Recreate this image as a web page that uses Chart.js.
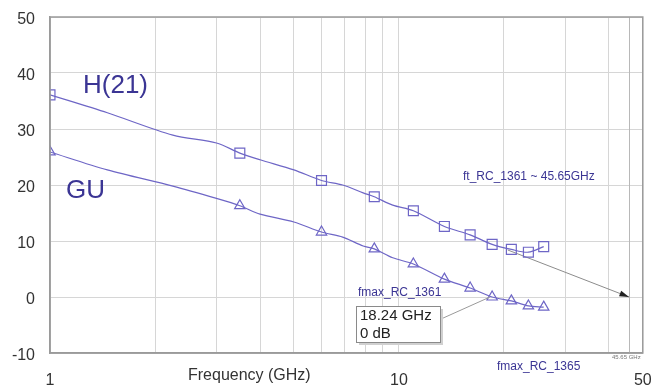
<!DOCTYPE html>
<html>
<head>
<meta charset="utf-8">
<script src="https://cdn.jsdelivr.net/npm/chart.js@4.4.1/dist/chart.umd.min.js"></script>
<style>
  html, body { margin: 0; padding: 0; background: #fff; }
  #wrap { width: 651px; height: 386px; }
</style>
</head>
<body>
<div id="wrap"><canvas id="c"></canvas></div>
<script>
// ---- data (frequency in GHz, gain in dB) ----
const lineFreqs  = [1, 1.46, 2.25, 3.0, 3.5, 4.0, 5.0, 6.0, 6.9, 7.9, 8.5, 9.6, 11, 13.5, 16, 18.5, 21, 23.5, 26];
const h21Line    = [36.1, 32.9, 28.9, 27.5, 25.7, 24.5, 22.7, 20.8, 20.0, 18.6, 17.9, 16.4, 15.4, 12.6, 11.1, 9.4, 8.5, 8.0, 9.0];
const guLine     = [25.9, 22.7, 19.8, 17.6, 16.3, 14.8, 13.4, 11.6, 10.7, 9.1, 8.6, 7.0, 5.9, 3.2, 1.6, 0.0, -0.7, -1.6, -1.8];

const markerFreqs = [1, 3.5, 6, 8.5, 11, 13.5, 16, 18.5, 21, 23.5, 26];
const h21Markers  = [36.1, 25.7, 20.8, 17.9, 15.4, 12.6, 11.1, 9.4, 8.5, 8.0, 9.0];
const guMarkers   = [25.9, 16.3, 11.6, 8.6, 5.9, 3.2, 1.6, 0.0, -0.7, -1.6, -1.8];

// extrapolated ft line and fmax marker
const ftFreqs = [20.5, 45.65];
const ftGain  = [8.4, 0];
const fmaxPoint = { x: 18.24, y: 0 };

const xTicks = [1, 2, 3, 4, 5, 6, 7, 8, 9, 10, 20, 30, 40, 50];
const xLabeled = [1, 10, 50];

const lineColor = "#6e66c6";
const textColor = "#3b3594";

const pts = (xs, ys) => xs.map((x, i) => ({ x, y: ys[i] }));

// keep the plot area fixed, whatever the tick labels want
const noPad = (axis) => {
    axis.paddingLeft = 0;
    axis.paddingRight = 0;
    axis.paddingTop = 0;
    axis.paddingBottom = 0;
};

// annotations: frame, marker line, arrow, callout box, labels
const annotations = {
    id: "annotations",
    beforeDatasetsDraw(chart) {
        const { ctx, chartArea: a, scales: { x } } = chart;
        const px = x.getPixelForValue(45.65);
        ctx.save();
        ctx.strokeStyle = "#b8b8b8";
        ctx.lineWidth = 1;
        ctx.beginPath();
        ctx.moveTo(Math.round(px) + 0.5, a.top);
        ctx.lineTo(Math.round(px) + 0.5, a.bottom);
        ctx.stroke();
        ctx.restore();
    },
    afterDatasetsDraw(chart) {
        const { ctx, chartArea: a, scales: { x, y } } = chart;
        ctx.save();
        // frame
        ctx.strokeStyle = "#9a9a9a";
        ctx.lineWidth = 1.5;
        ctx.strokeRect(a.left, a.top, a.right - a.left, a.bottom - a.top);

        // arrow head at the end of ft extrapolation
        const x0 = x.getPixelForValue(ftFreqs[0]), y0 = y.getPixelForValue(ftGain[0]);
        const x1 = x.getPixelForValue(ftFreqs[1]), y1 = y.getPixelForValue(ftGain[1]);
        const ang = Math.atan2(y1 - y0, x1 - x0);
        ctx.fillStyle = "#222";
        ctx.beginPath();
        ctx.moveTo(x1, y1);
        ctx.lineTo(x1 - 10 * Math.cos(ang - 0.3), y1 - 10 * Math.sin(ang - 0.3));
        ctx.lineTo(x1 - 10 * Math.cos(ang + 0.3), y1 - 10 * Math.sin(ang + 0.3));
        ctx.closePath();
        ctx.fill();

        // callout leader to fmax point
        const fx = x.getPixelForValue(fmaxPoint.x), fy = y.getPixelForValue(fmaxPoint.y);
        ctx.strokeStyle = "#9a9a9a";
        ctx.lineWidth = 1;
        ctx.beginPath();
        ctx.moveTo(441, 319);
        ctx.lineTo(fx, fy);
        ctx.stroke();

        // callout box with shadow
        ctx.fillStyle = "#d0d0d0";
        ctx.fillRect(359, 309, 84, 36);
        ctx.fillStyle = "#fff";
        ctx.fillRect(356, 306, 84, 36);
        ctx.strokeStyle = "#8a8a8a";
        ctx.strokeRect(356.5, 306.5, 84, 36);
        ctx.fillStyle = "#222";
        ctx.font = "15px 'Liberation Sans', Arial, sans-serif";
        ctx.textBaseline = "middle";
        ctx.textAlign = "left";
        ctx.fillText("18.24 GHz", 360, 316);
        ctx.fillText("0 dB", 360, 334);

        // series names
        ctx.fillStyle = textColor;
        ctx.font = "26px 'Liberation Sans', Arial, sans-serif";
        ctx.fillText("H(21)", 83, 86);
        ctx.fillText("GU", 66, 191);

        ctx.font = "12px 'Liberation Sans', Arial, sans-serif";
        ctx.fillText("ft_RC_1361 ~ 45.65GHz", 463, 177);
        ctx.fillText("fmax_RC_1361", 358, 293);
        ctx.fillText("fmax_RC_1365", 497, 367);

        ctx.fillStyle = "#777";
        ctx.font = "6px 'Liberation Sans', Arial, sans-serif";
        ctx.fillText("45.65 GHz", 612, 357);

        // x axis title
        ctx.fillStyle = "#333";
        ctx.font = "16px 'Liberation Sans', Arial, sans-serif";
        ctx.fillText("Frequency (GHz)", 188, 376);
        ctx.restore();
    }
};

new Chart(document.getElementById("c"), {
    type: "scatter",
    data: {
        datasets: [
            {
                label: "H(21)",
                type: "line",
                data: pts(lineFreqs, h21Line),
                borderColor: lineColor,
                borderWidth: 1.2,
                pointRadius: 0,
                tension: 0.3,
                fill: false,
            },
            {
                label: "GU",
                type: "line",
                data: pts(lineFreqs, guLine),
                borderColor: lineColor,
                borderWidth: 1.2,
                pointRadius: 0,
                tension: 0.3,
                fill: false,
            },
            {
                label: "H(21) markers",
                data: pts(markerFreqs, h21Markers),
                pointStyle: "rect",
                pointRadius: 7,
                borderColor: lineColor,
                backgroundColor: "rgba(0,0,0,0)",
                borderWidth: 1.2,
            },
            {
                label: "GU markers",
                data: pts(markerFreqs, guMarkers),
                pointStyle: "triangle",
                pointRadius: 6,
                borderColor: lineColor,
                backgroundColor: "rgba(0,0,0,0)",
                borderWidth: 1.2,
            },
            {
                label: "ft extrapolation",
                type: "line",
                data: pts(ftFreqs, ftGain),
                borderColor: "#8c8c8c",
                borderWidth: 1,
                pointRadius: 0,
                fill: false,
            },
        ],
    },
    options: {
        responsive: true,
        maintainAspectRatio: false,
        animation: false,
        layout: { padding: { top: 17, right: 8, left: 0, bottom: 0 } },
        plugins: {
            legend: { display: false },
            tooltip: { enabled: false },
        },
        scales: {
            x: {
                type: "logarithmic",
                min: 1,
                max: 50,
                afterBuildTicks: (axis) => { axis.ticks = xTicks.map(v => ({ value: v })); },
                afterFit: (axis) => { axis.height = 33; noPad(axis); },
                ticks: {
                    autoSkip: false,
                    maxRotation: 0,
                    padding: 18,
                    color: "#333",
                    font: { size: 16, family: "'Liberation Sans', Arial, sans-serif" },
                    callback: (v) => xLabeled.includes(v) ? String(v) : "",
                },
                grid: { color: "#d6d6d6", lineWidth: 1, drawTicks: false },
                border: { color: "#9a9a9a", width: 1.5 },
            },
            y: {
                min: -10,
                max: 50,
                afterFit: (axis) => { axis.width = 50; noPad(axis); },
                ticks: {
                    stepSize: 10,
                    padding: 15,
                    labelOffset: 3,
                    color: "#333",
                    font: { size: 16, family: "'Liberation Sans', Arial, sans-serif" },
                },
                grid: { color: "#d6d6d6", lineWidth: 1, drawTicks: false },
                border: { color: "#9a9a9a", width: 1.5 },
            },
        },
    },
    plugins: [annotations],
});
</script>
</body>
</html>
